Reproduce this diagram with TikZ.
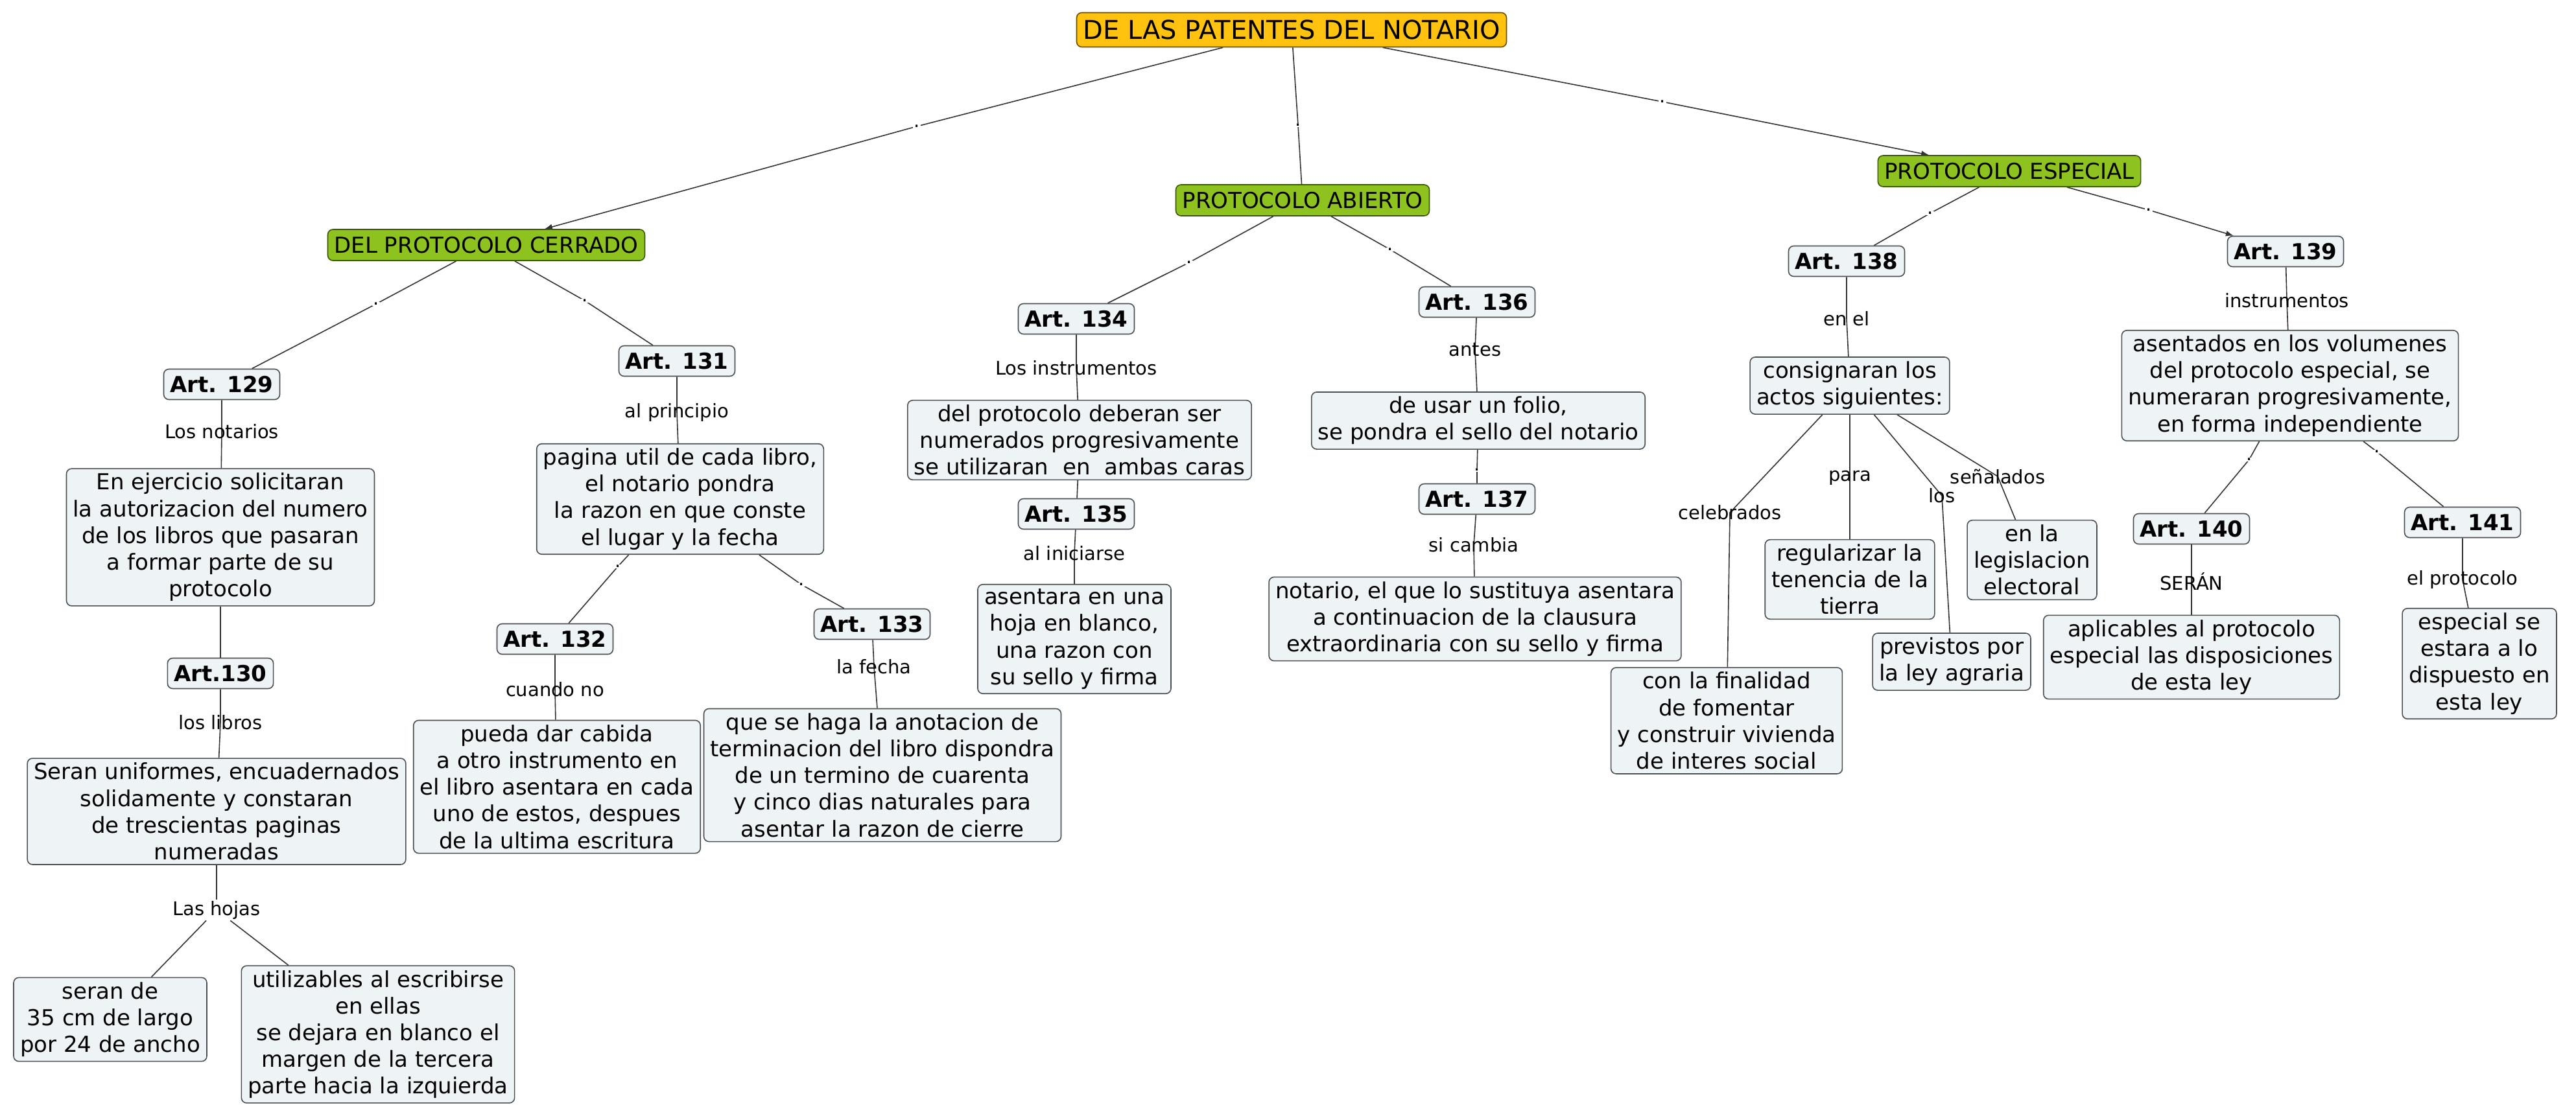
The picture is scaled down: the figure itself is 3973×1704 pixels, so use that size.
\documentclass[tikz,border=0pt]{standalone}
\usepackage{fontspec}
\setmainfont{DejaVu Sans}
\usetikzlibrary{arrows.meta,backgrounds}

\definecolor{boxfill}{HTML}{EEF3F5}
\definecolor{boxdraw}{HTML}{4A5055}
\definecolor{titlefill}{HTML}{FFC20E}
\definecolor{titledraw}{HTML}{6A4E00}
\definecolor{greenfill}{HTML}{8DC21F}
\definecolor{greendraw}{HTML}{3A5800}
\definecolor{edgecol}{HTML}{333333}

\begin{document}
\begin{tikzpicture}[x=0.5pt,y=-0.5pt,
  box/.style={draw=boxdraw, fill=boxfill, rounded corners=4pt, line width=0.8pt, align=center, inner xsep=5pt, inner ysep=3.5pt, font=\fontsize{17}{20.6}\selectfont},
  art/.style={box, font=\bfseries\fontsize{17}{20.6}\selectfont, minimum height=23.5pt, inner ysep=0pt},
  grn/.style={box, fill=greenfill, draw=greendraw, minimum height=24pt, inner ysep=0pt},
  ttl/.style={box, fill=titlefill, draw=titledraw, font=\fontsize{20}{24}\selectfont, minimum height=26.5pt, inner ysep=0pt},
  lab/.style={font=\fontsize{14.5}{17}\selectfont, inner sep=1pt},
  dotlab/.style={font=\fontsize{14.5}{17}\selectfont, inner sep=0.5pt, fill=white},
  edge/.style={draw=edgecol, line width=0.8pt},
  arr/.style={edge, -{Latex[length=6pt,width=4.5pt]}}
]
\useasboundingbox (0,0) rectangle (3973,1704);

% main concepts
\node[ttl] (title) at (1992,46) {DE LAS PATENTES DEL NOTARIO};
\node[grn] (abierto) at (2009,309) {PROTOCOLO ABIERTO};
\node[grn] (cerrado) at (750,378) {DEL PROTOCOLO CERRADO};
\node[grn] (especial) at (3099,264) {PROTOCOLO ESPECIAL};

% articles
\node[art] (a129) at (342,593) {Art. 129};
\node[art] (a130) at (340,1039) {Art.130};
\node[art] (a131) at (1044,557) {Art. 131};
\node[art] (a132) at (856,986) {Art. 132};
\node[art] (a133) at (1345,963) {Art. 133};
\node[art] (a134) at (1660,492) {Art. 134};
\node[art] (a135) at (1660,793) {Art. 135};
\node[art] (a136) at (2278,466) {Art. 136};
\node[art] (a137) at (2278,770) {Art. 137};
\node[art] (a138) at (2848,403) {Art. 138};
\node[art] (a139) at (3525,388) {Art. 139};
\node[art] (a140) at (3380,816) {Art. 140};
\node[art] (a141) at (3798,806) {Art. 141};

% text boxes
\node[box] (t129) at (340,829) {En ejercicio solicitaran\\la autorizacion del numero\\de los libros que pasaran\\a formar parte de su\\protocolo};
\node[box] (t130) at (334,1252) {Seran uniformes, encuadernados\\solidamente y constaran\\de trescientas paginas\\numeradas};
\node[box] (t130a) at (170,1573) {seran de\\35 cm de largo\\por 24 de ancho};
\node[box] (t130b) at (583,1596) {utilizables al escribirse\\en ellas\\se dejara en blanco el\\margen de la tercera\\parte hacia la izquierda};
\node[box] (t131) at (1049,770) {pagina util de cada libro,\\el notario pondra\\la razon en que conste\\el lugar y la fecha};
\node[box] (t132) at (859,1214) {pueda dar cabida\\a otro instrumento en\\el libro asentara en cada\\uno de estos, despues\\de la ultima escritura};
\node[box] (t133) at (1361,1196) {que se haga la anotacion de\\terminacion del libro dispondra\\de un termino de cuarenta\\y cinco dias naturales para\\asentar la razon de cierre};
\node[box] (t134) at (1665,679) {del protocolo deberan ser\\numerados progresivamente\\se utilizaran~ en~ ambas caras};
\node[box] (t135) at (1657,986) {asentara en una\\hoja en blanco,\\una razon con\\su sello y firma};
\node[box] (t136) at (2280,649) {de usar un folio,\\se pondra el sello del notario};
\node[box] (t137) at (2275,955) {notario, el que lo sustituya asentara\\a continuacion de la clausura\\extraordinaria con su sello y firma};
\node[box] (t138) at (2853,595) {consignaran los\\actos siguientes:};
\node[box] (t138a) at (2663,1112) {con la finalidad\\de fomentar\\y construir vivienda\\de interes social};
\node[box] (t138b) at (2853,894) {regularizar la\\tenencia de la\\tierra};
\node[box] (t138c) at (3010,1021) {previstos por\\la ley agraria};
\node[box] (t138d) at (3134,864) {en la\\legislacion\\electoral};
\node[box] (t139) at (3532,595) {asentados en los volumenes\\del protocolo especial, se\\numeraran progresivamente,\\en forma independiente};
\node[box] (t140) at (3380,1014) {aplicables al protocolo\\especial las disposiciones\\de esta ley};
\node[box] (t141) at (3824,1024) {especial se\\estara a lo\\dispuesto en\\esta ley};

% linking phrases
\node[lab] (lnot) at (342,666) {Los notarios};
\node[lab] (lpri) at (1044,636) {al principio};
\node[lab] (lins) at (1660,568) {Los instrumentos};
\node[lab] (lant) at (2275,540) {antes};
\node[lab] (lenel) at (2848,492) {en el};
\node[lab] (lins2) at (3527,464) {instrumentos};
\node[lab] (lini) at (1657,854) {al iniciarse};
\node[lab] (lcam) at (2273,841) {si cambia};
\node[lab] (llib) at (340,1115) {los libros};
\node[lab] (lcua) at (856,1064) {cuando no};
\node[lab] (lfec) at (1348,1029) {la fecha};
\node[lab] (lhoj) at (334,1404) {Las hojas};
\node[lab] (lcel) at (2668,791) {celebrados};
\node[lab] (lpar) at (2853,737) {para};
\node[lab] (llos) at (2995,765) {los};
\node[lab] (lsen) at (3081,735) {señalados};
\node[lab] (lser) at (3380,897) {SERÁN};
\node[lab] (lpro) at (3798,894) {el protocolo};

% dot linking phrases
\node[dotlab] (d1) at (1414,195) {.};
\node[dotlab] (d2) at (2002,193) {.};
\node[dotlab] (d3) at (2564,157) {.};
\node[dotlab] (d4) at (580,469) {.};
\node[dotlab] (d5) at (902,464) {.};
\node[dotlab] (d6) at (1834,405) {.};
\node[dotlab] (d7) at (2144,385) {.};
\node[dotlab] (d8) at (2977,329) {.};
\node[dotlab] (d9) at (3314,324) {.};
\node[dotlab] (d10) at (953,874) {.};
\node[dotlab] (d11) at (1236,902) {.};
\node[dotlab] (d12) at (2278,725) {.};
\node[dotlab] (d13) at (3469,709) {.};
\node[dotlab] (d14) at (3666,697) {.};

\begin{pgfonlayer}{background}
\fill[white] (0,0) rectangle (3973,1704);
\draw[arr] (title) -- (d1.center) -- (cerrado);
\draw[edge] (title) -- (d2.center) -- (abierto);
\draw[arr] (title) -- (d3.center) -- (especial);
\draw[edge] (cerrado) -- (d4.center) -- (a129);
\draw[edge] (cerrado) -- (d5.center) -- (a131);
\draw[edge] (a129) -- (lnot.center) -- (t129);
\draw[edge] (t129) -- (a130);
\draw[edge] (a130) -- (llib.center) -- (t130);
\draw[edge] (t130) -- (lhoj);
\draw[edge] (lhoj) -- (t130a);
\draw[edge] (lhoj) -- (t130b);
\draw[edge] (a131) -- (lpri.center) -- (t131);
\draw[edge] (t131) -- (d10.center) -- (a132);
\draw[edge] (t131) -- (d11.center) -- (a133);
\draw[edge] (a132) -- (lcua.center) -- (t132);
\draw[edge] (a133) -- (lfec.center) -- (t133);
\draw[edge] (abierto) -- (d6.center) -- (a134);
\draw[edge] (abierto) -- (d7.center) -- (a136);
\draw[edge] (a134) -- (lins.center) -- (t134);
\draw[edge] (t134) -- (a135);
\draw[edge] (a135) -- (lini.center) -- (t135);
\draw[edge] (a136) -- (lant.center) -- (t136);
\draw[edge] (t136) -- (d12.center) -- (a137);
\draw[edge] (a137) -- (lcam.center) -- (t137);
\draw[edge] (especial) -- (d8.center) -- (a138);
\draw[arr] (especial) -- (d9.center) -- (a139);
\draw[edge] (a138) -- (lenel.center) -- (t138);
\draw[edge] (t138) -- (lcel.center) -- (t138a);
\draw[edge] (t138) -- (lpar.center) -- (t138b);
\draw[edge] (t138) -- (llos.center) -- (t138c);
\draw[edge] (t138) -- (lsen.center) -- (t138d);
\draw[edge] (a139) -- (lins2.center) -- (t139);
\draw[edge] (t139) -- (d13.center) -- (a140);
\draw[edge] (t139) -- (d14.center) -- (a141);
\draw[edge] (a140) -- (lser.center) -- (t140);
\draw[edge] (a141) -- (lpro.center) -- (t141);
\end{pgfonlayer}
\end{tikzpicture}
\end{document}
